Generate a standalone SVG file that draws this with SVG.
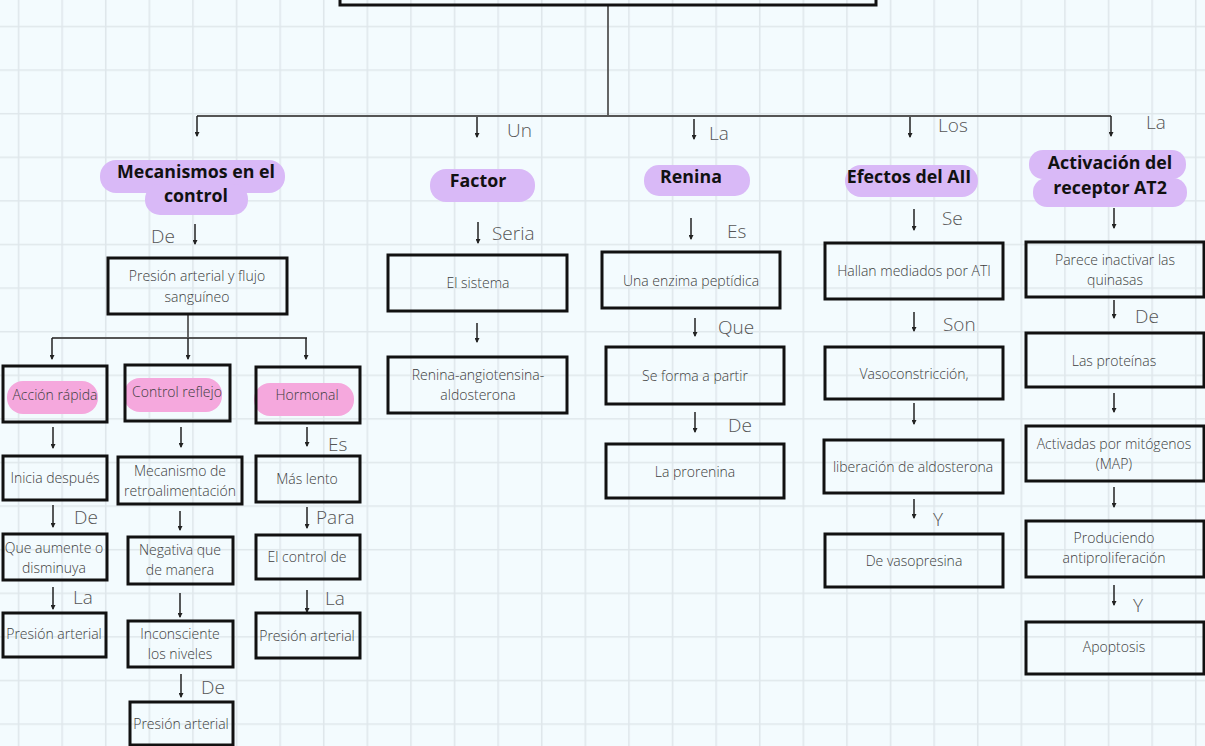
<svg xmlns="http://www.w3.org/2000/svg" width="1205" height="746" viewBox="0 0 1205 746">
<defs>
<pattern id="grid" x="17.75" y="25.75" width="43.6" height="43.6" patternUnits="userSpaceOnUse">
<path d="M0 0.75 H43.6 M0.75 0 V43.6" stroke="#dfe7eb" stroke-width="1.6" fill="none"/>
</pattern>
<marker id="ah" viewBox="0 0 5 5" refX="4" refY="2.5" markerWidth="5" markerHeight="5" markerUnits="userSpaceOnUse" orient="auto">
<path d="M0,0 L5,2.5 L0,5 z" fill="#222"/>
</marker>
<style>
.box{fill:none;stroke:#111;stroke-width:3}
.t{font-family:'Open Sans','Liberation Sans',sans-serif;font-size:14px;font-weight:300;fill:#3d3d3d;text-anchor:middle}
.h{font-family:'Open Sans','Liberation Sans',sans-serif;font-size:17.8px;font-weight:700;fill:#111;text-anchor:middle}
.lbl{font-family:'Open Sans','Liberation Sans',sans-serif;font-size:19px;font-weight:300;fill:#555}
.conn{stroke:#555;stroke-width:1.8;fill:none}
.arr{stroke:#222;stroke-width:1.5;fill:none;marker-end:url(#ah)}
.hp{fill:#d9b9f7}
.hk{fill:#f5a8dd}
</style>
</defs>
<rect width="1205" height="746" fill="#f3fbfe"/>
<rect width="1205" height="746" fill="url(#grid)"/>

<g id="connectors">
<path class="conn" d="M608,6 V116 M197,116 H1111"/>
<path class="arr" d="M197,116 V136"/>
<path class="arr" d="M477,117 V137"/>
<path class="arr" d="M694,119 V139"/>
<path class="arr" d="M910,117 V137"/>
<path class="arr" d="M1111,116 V136"/>
<path class="arr" d="M195,224 V244"/>
<path class="arr" d="M478,222 V243"/>
<path class="arr" d="M691,218 V239"/>
<path class="arr" d="M914,209 V230"/>
<path class="arr" d="M1114,208 V228"/>
<path class="conn" d="M188,314 V338 M52,338 H307"/>
<path class="arr" d="M52,338 V359"/>
<path class="arr" d="M188,338 V359"/>
<path class="arr" d="M306,338 V359"/>
<path class="arr" d="M53,427 V448"/>
<path class="arr" d="M181,427 V447"/>
<path class="arr" d="M307,427 V446"/>
<path class="arr" d="M53,505 V527"/>
<path class="arr" d="M180,511 V530"/>
<path class="arr" d="M307,507 V528"/>
<path class="arr" d="M53,587 V609"/>
<path class="arr" d="M180,593 V617"/>
<path class="arr" d="M307,590 V612"/>
<path class="arr" d="M181,674 V697"/>
<path class="arr" d="M477,323 V342"/>
<path class="arr" d="M695,318 V336"/>
<path class="arr" d="M695,412 V432"/>
<path class="arr" d="M914,312 V331"/>
<path class="arr" d="M914,403 V424"/>
<path class="arr" d="M914,499 V518"/>
<path class="arr" d="M1114,300 V318"/>
<path class="arr" d="M1114,393 V412"/>
<path class="arr" d="M1114,487 V507"/>
<path class="arr" d="M1114,585 V605"/>
<text class="lbl" x="507" y="137">Un</text>
<text class="lbl" x="709" y="140">La</text>
<text class="lbl" x="938" y="132">Los</text>
<text class="lbl" x="1146" y="129">La</text>
<text class="lbl" x="151" y="243">De</text>
<text class="lbl" x="492" y="240">Seria</text>
<text class="lbl" x="727" y="238">Es</text>
<text class="lbl" x="942" y="225">Se</text>
<text class="lbl" x="328" y="451">Es</text>
<text class="lbl" x="74" y="524">De</text>
<text class="lbl" x="316" y="524">Para</text>
<text class="lbl" x="73" y="604">La</text>
<text class="lbl" x="325" y="605">La</text>
<text class="lbl" x="201" y="694">De</text>
<text class="lbl" x="718" y="334">Que</text>
<text class="lbl" x="728" y="432">De</text>
<text class="lbl" x="943" y="331">Son</text>
<text class="lbl" x="933" y="526">Y</text>
<text class="lbl" x="1135" y="323">De</text>
<text class="lbl" x="1133" y="612">Y</text>
</g>

<g id="top">
<rect class="box" x="340" y="-20" width="536" height="25" stroke-width="3.5"/>
</g>

<g id="h-mecanismos">
<rect class="hp" x="100" y="160" width="185" height="33" rx="16"/>
<rect class="hp" x="145" y="184" width="103" height="31" rx="15"/>
<text class="h" x="196" y="178">Mecanismos en el</text>
<text class="h" x="196" y="202">control</text>
</g>
<g id="h-factor">
<rect class="hp" x="430" y="169" width="105" height="33" rx="16"/>
<text class="h" x="478" y="187">Factor</text>
</g>
<g id="h-renina">
<rect class="hp" x="644" y="165" width="106" height="31" rx="15"/>
<text class="h" x="691" y="183">Renina</text>
</g>
<g id="h-efectos">
<rect class="hp" x="845" y="165" width="133" height="32" rx="16"/>
<text class="h" x="909" y="183">Efectos del AII</text>
</g>
<g id="h-at2">
<rect class="hp" x="1029" y="150" width="157" height="29" rx="14"/>
<rect class="hp" x="1033" y="178" width="154" height="29" rx="14"/>
<text class="h" x="1110" y="169">Activación del</text>
<text class="h" x="1110" y="194">receptor AT2</text>
</g>

<g id="n-presion-flujo">
<rect class="box" x="108" y="258" width="179" height="56"/>
<text class="t" x="197" y="281">Presión arterial y flujo</text>
<text class="t" x="197" y="302">sanguíneo</text>
</g>
<g id="n-accion">
<rect class="hk" x="7" y="381" width="91" height="33" rx="16"/>
<rect class="box" x="3" y="366" width="104" height="56"/>
<text class="t" x="55" y="400">Acción rápida</text>
</g>
<g id="n-control-reflejo">
<rect class="hk" x="124" y="378" width="98" height="34" rx="16"/>
<rect class="box" x="125" y="365" width="105" height="56"/>
<text class="t" x="177" y="397">Control reflejo</text>
</g>
<g id="n-hormonal">
<rect class="hk" x="254" y="383" width="100" height="33" rx="16"/>
<rect class="box" x="256" y="367" width="104" height="56"/>
<text class="t" x="307" y="400">Hormonal</text>
</g>
<g id="n-inicia">
<rect class="box" x="3" y="456" width="104" height="44"/>
<text class="t" x="55" y="483">Inicia después</text>
</g>
<g id="n-mecanismo">
<rect class="box" x="118" y="457" width="124" height="47"/>
<text class="t" x="180" y="476">Mecanismo de</text>
<text class="t" x="180" y="496">retroalimentación</text>
</g>
<g id="n-mas-lento">
<rect class="box" x="256" y="456" width="104" height="46"/>
<text class="t" x="307" y="484">Más lento</text>
</g>
<g id="n-que-aumente">
<rect class="box" x="3" y="534" width="104" height="46"/>
<text class="t" x="54" y="553">Que aumente o</text>
<text class="t" x="54" y="573">disminuya</text>
</g>
<g id="n-negativa">
<rect class="box" x="128" y="537" width="105" height="47"/>
<text class="t" x="180" y="555">Negativa que</text>
<text class="t" x="180" y="575">de manera</text>
</g>
<g id="n-el-control">
<rect class="box" x="256" y="535" width="104" height="44"/>
<text class="t" x="307" y="562">El control de</text>
</g>
<g id="n-presion-1">
<rect class="box" x="3" y="613" width="103" height="44"/>
<text class="t" x="54" y="639">Presión arterial</text>
</g>
<g id="n-inconsciente">
<rect class="box" x="128" y="621" width="105" height="46"/>
<text class="t" x="180" y="639">Inconsciente</text>
<text class="t" x="180" y="659">los niveles</text>
</g>
<g id="n-presion-3">
<rect class="box" x="256" y="613" width="104" height="45"/>
<text class="t" x="307" y="641">Presión arterial</text>
</g>
<g id="n-presion-2">
<rect class="box" x="130" y="702" width="103" height="43"/>
<text class="t" x="181" y="729">Presión arterial</text>
</g>

<g id="n-el-sistema">
<rect class="box" x="388" y="255" width="179" height="56"/>
<text class="t" x="478" y="288">El sistema</text>
</g>
<g id="n-raa">
<rect class="box" x="388" y="357" width="179" height="56"/>
<text class="t" x="478" y="380">Renina-angiotensina-</text>
<text class="t" x="478" y="400">aldosterona</text>
</g>

<g id="n-enzima">
<rect class="box" x="602" y="252" width="178" height="56"/>
<text class="t" x="691" y="286">Una enzima peptídica</text>
</g>
<g id="n-se-forma">
<rect class="box" x="606" y="347" width="178" height="57"/>
<text class="t" x="695" y="381">Se forma a partir</text>
</g>
<g id="n-prorenina">
<rect class="box" x="606" y="444" width="178" height="54"/>
<text class="t" x="695" y="477">La prorenina</text>
</g>

<g id="n-hallan">
<rect class="box" x="825" y="243" width="178" height="56"/>
<text class="t" x="914" y="276">Hallan mediados por ATI</text>
</g>
<g id="n-vaso">
<rect class="box" x="825" y="347" width="178" height="52"/>
<text class="t" x="914" y="379">Vasoconstricción,</text>
</g>
<g id="n-liberacion">
<rect class="box" x="824" y="440" width="179" height="53"/>
<text class="t" x="913" y="472">liberación de aldosterona</text>
</g>
<g id="n-vasopresina">
<rect class="box" x="825" y="534" width="178" height="53"/>
<text class="t" x="914" y="566">De vasopresina</text>
</g>

<g id="n-parece">
<rect class="box" x="1026" y="242" width="178" height="55"/>
<text class="t" x="1115" y="265">Parece inactivar las</text>
<text class="t" x="1115" y="285">quinasas</text>
</g>
<g id="n-proteinas">
<rect class="box" x="1026" y="333" width="178" height="54"/>
<text class="t" x="1114" y="366">Las proteínas</text>
</g>
<g id="n-activadas">
<rect class="box" x="1026" y="426" width="178" height="55"/>
<text class="t" x="1114" y="449">Activadas por mitógenos</text>
<text class="t" x="1114" y="469">(MAP)</text>
</g>
<g id="n-produciendo">
<rect class="box" x="1026" y="521" width="178" height="56"/>
<text class="t" x="1114" y="543">Produciendo</text>
<text class="t" x="1114" y="563">antiproliferación</text>
</g>
<g id="n-apoptosis">
<rect class="box" x="1026" y="622" width="178" height="52"/>
<text class="t" x="1114" y="652">Apoptosis</text>
</g>
</svg>
